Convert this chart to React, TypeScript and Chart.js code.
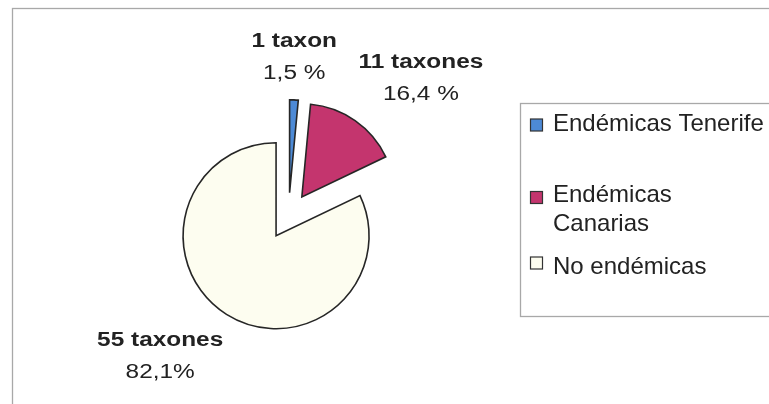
import React, { useEffect, useRef } from "react";
import { Chart, registerables } from "chart.js";

Chart.register(...registerables);

// ---- data ----
const categories = ["Endémicas Tenerife", "Endémicas Canarias", "No endémicas"];
const taxonCounts = [1, 11, 55];
const countLabels = ["1 taxon", "11 taxones", "55 taxones"];
const percentLabels = ["1,5 %", "16,4 %", "82,1%"];
const sliceColors = ["#4d8ad6", "#c4356e", "#fdfdf0"];

// ---- layout / style ----
const W = 769;
const H = 404;
const FONT = '"Liberation Sans", Arial, sans-serif';
const PIE_RADIUS = 93;
const EXPLODE = 23.3;
const LABEL_SIZE = 20;
const LABEL_STRETCH = 1.22;
const LABEL_GAP_X = 6;
const LABEL_GAP_Y = 16;
const LABEL_LINE_GAP = 32;
const LEGEND_SIZE = 24;
const LEGEND_BOX = { x: 520.5, y: 103.5, w: 300, h: 213 };
const LEGEND_ROW_Y = [123, 194, 266];
const LEGEND_SQUARE_DY = [2, 3.5, -3];
const LEGEND_LINE_H = 29.3;
const LEGEND_WRAP = 217;

function drawStretched(ctx: CanvasRenderingContext2D, text: string, cx: number, cy: number, stretch: number) {
  ctx.save();
  ctx.translate(cx, cy);
  ctx.scale(stretch, 1);
  ctx.textAlign = "center";
  ctx.textBaseline = "middle";
  ctx.fillText(text, 0, 0);
  ctx.restore();
}

// pushes every slice out from the pie centre along its mid angle
const explodePlugin = {
  id: "explode",
  afterUpdate(chart: any) {
    const meta = chart.getDatasetMeta(0);
    meta.data.forEach((arc: any) => {
      const a = (arc.startAngle + arc.endAngle) / 2;
      arc.x = arc.x + Math.cos(a) * EXPLODE;
      arc.y = arc.y + Math.sin(a) * EXPLODE;
    });
  },
};

const framePlugin = {
  id: "frame",
  beforeDraw(chart: any) {
    const ctx = chart.ctx as CanvasRenderingContext2D;
    ctx.save();
    ctx.fillStyle = "#ffffff";
    ctx.fillRect(0, 0, W, H);
    ctx.strokeStyle = "#a8a8a8";
    ctx.lineWidth = 1.3;
    ctx.strokeRect(12.5, 8.5, W + 40, H + 40);
    ctx.restore();
  },
};

const labelPlugin = {
  id: "sliceLabels",
  afterDatasetsDraw(chart: any) {
    const ctx = chart.ctx as CanvasRenderingContext2D;
    const meta = chart.getDatasetMeta(0);
    meta.data.forEach((arc: any, i: number) => {
      const { x, y, startAngle, endAngle, outerRadius } = arc;
      const a = (startAngle + endAngle) / 2;
      const dx = Math.cos(a);
      const dy = Math.sin(a);
      const px = x + dx * (outerRadius + LABEL_GAP_X);
      const py = y + dy * outerRadius + Math.sign(dy) * LABEL_GAP_Y;

      ctx.save();
      ctx.font = `bold ${LABEL_SIZE}px ${FONT}`;
      const w1 = ctx.measureText(countLabels[i]).width * LABEL_STRETCH;
      ctx.font = `${LABEL_SIZE}px ${FONT}`;
      const w2 = ctx.measureText(percentLabels[i]).width * LABEL_STRETCH;
      const bw = Math.max(w1, w2);
      const bh = LABEL_LINE_GAP + 20;
      let cx: number;
      if (Math.abs(dx) < 0.3) cx = px;
      else if (dx > 0) cx = px + bw / 2;
      else cx = px - bw / 2;
      const top = dy < 0 ? py - bh : py;

      ctx.fillStyle = "#222222";
      ctx.font = `bold ${LABEL_SIZE}px ${FONT}`;
      drawStretched(ctx, countLabels[i], cx, top + 10, LABEL_STRETCH);
      ctx.font = `${LABEL_SIZE}px ${FONT}`;
      drawStretched(ctx, percentLabels[i], cx, top + 10 + LABEL_LINE_GAP, LABEL_STRETCH);
      ctx.restore();
    });
  },
};

const legendPlugin = {
  id: "customLegend",
  afterDraw(chart: any) {
    const ctx = chart.ctx as CanvasRenderingContext2D;
    const labels: string[] = chart.data.labels;
    const colors: string[] = chart.data.datasets[0].backgroundColor;
    ctx.save();
    ctx.strokeStyle = "#a8a8a8";
    ctx.lineWidth = 1.3;
    ctx.strokeRect(LEGEND_BOX.x, LEGEND_BOX.y, LEGEND_BOX.w, LEGEND_BOX.h);
    ctx.font = `${LEGEND_SIZE}px ${FONT}`;
    ctx.textBaseline = "middle";
    ctx.textAlign = "left";
    labels.forEach((label, i) => {
      const words = label.split(" ");
      const lines: string[] = [];
      let cur = "";
      words.forEach((wd) => {
        const t = cur ? cur + " " + wd : wd;
        if (cur && ctx.measureText(t).width > LEGEND_WRAP) {
          lines.push(cur);
          cur = wd;
        } else cur = t;
      });
      if (cur) lines.push(cur);
      const y0 = LEGEND_ROW_Y[i];
      const sy = y0 + LEGEND_SQUARE_DY[i] - 6;
      ctx.fillStyle = colors[i];
      ctx.fillRect(530.5, sy, 12, 12);
      ctx.strokeStyle = "#333333";
      ctx.lineWidth = 1.2;
      ctx.strokeRect(530.5, sy, 12, 12);
      ctx.fillStyle = "#222222";
      lines.forEach((ln, j) => {
        ctx.fillText(ln, 553, y0 + 1 + j * LEGEND_LINE_H);
      });
    });
    ctx.restore();
  },
};

export default function App() {
  const ref = useRef<HTMLCanvasElement | null>(null);
  useEffect(() => {
    if (!ref.current) return;
    const chart = new Chart(ref.current, {
      type: "pie",
      data: {
        labels: categories,
        datasets: [
          {
            data: taxonCounts,
            backgroundColor: sliceColors,
            borderColor: "#262626",
            borderWidth: 1.6,
            borderJoinStyle: "miter",
            radius: PIE_RADIUS,
          } as any,
        ],
      },
      options: {
        responsive: false,
        animation: false,
        devicePixelRatio: 1,
        layout: { padding: { left: 0, right: 192, top: 28, bottom: 0 } },
        plugins: {
          legend: { display: false },
          tooltip: { enabled: false },
        },
      },
      plugins: [explodePlugin, framePlugin, labelPlugin, legendPlugin],
    });
    return () => chart.destroy();
  }, []);
  return (
    <div style={{ position: "absolute", left: 0, top: 0, width: W, height: H }}>
      <canvas ref={ref} width={W} height={H} style={{ display: "block" }} />
    </div>
  );
}
